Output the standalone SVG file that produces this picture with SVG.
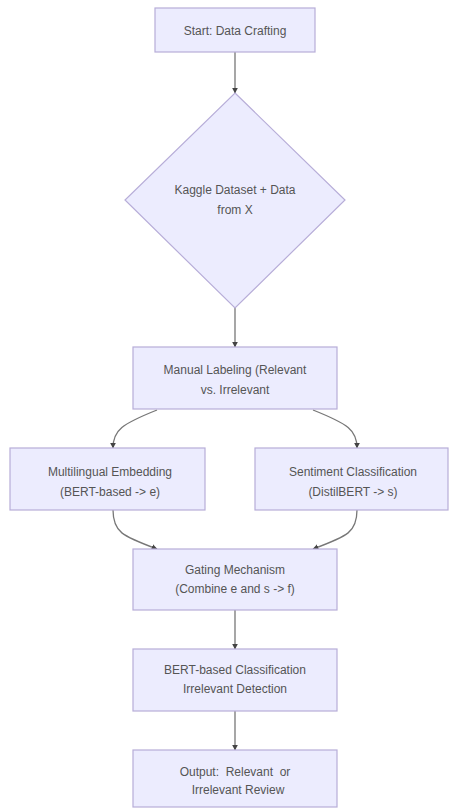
<svg xmlns="http://www.w3.org/2000/svg" width="454" height="810" viewBox="0 0 454 810">
<style>
.node rect, .node polygon { fill: #ececfe; stroke: #b7add8; stroke-width: 1.2; }
.node text { font-family: "Liberation Sans", Arial, sans-serif; font-size: 12px; fill: #555; text-anchor: middle; white-space: pre; }
.edges path { fill: none; stroke: #777; stroke-width: 1.3; marker-end: url(#arr); }
</style>
<defs>
<marker id="arr" viewBox="0 0 10 10" refX="9" refY="5" markerWidth="6" markerHeight="6" markerUnits="userSpaceOnUse" orient="auto">
<path d="M0,0 L10,5 L0,10 z" fill="#444"/>
</marker>
</defs>
<rect width="454" height="810" fill="#ffffff"/>
<g class="edges">
<path d="M235,52 L235,93"/>
<path d="M235,308 L235,347"/>
<path d="M157,410 C122,424 113,430 113,448"/>
<path d="M313,410 C348,424 357,430 357,448"/>
<path d="M113,510 C113,532 122,536 157,549"/>
<path d="M357,510 C357,532 348,536 313,549"/>
<path d="M235,610 L235,649"/>
<path d="M235,711 L235,750"/>
</g>
<g class="node" id="start">
<rect x="155" y="8" width="160" height="44"/>
<text x="235" y="35">Start: Data Crafting</text>
</g>
<g class="node" id="kaggle">
<polygon points="235,93 345,200 235,308 125,200"/>
<text x="235" y="194">Kaggle Dataset + Data</text>
<text x="235" y="214">from X</text>
</g>
<g class="node" id="manual">
<rect x="133" y="347" width="204" height="62"/>
<text x="235" y="374">Manual Labeling (Relevant</text>
<text x="235" y="394">vs. Irrelevant</text>
</g>
<g class="node" id="embed">
<rect x="10" y="448" width="195" height="62"/>
<text x="110" y="476">Multilingual Embedding</text>
<text x="110" y="496">(BERT-based -&gt; e)</text>
</g>
<g class="node" id="sentiment">
<rect x="255" y="448" width="193" height="62"/>
<text x="353" y="476">Sentiment Classification</text>
<text x="353" y="496">(DistilBERT -&gt; s)</text>
</g>
<g class="node" id="gating">
<rect x="133" y="549" width="204" height="61"/>
<text x="235" y="574">Gating Mechanism</text>
<text x="235" y="593">(Combine e and s -&gt; f)</text>
</g>
<g class="node" id="bert">
<rect x="133" y="649" width="204" height="62"/>
<text x="235" y="674">BERT-based Classification</text>
<text x="235" y="693">Irrelevant Detection</text>
</g>
<g class="node" id="output">
<rect x="133" y="750" width="204" height="57"/>
<text x="235" y="776">Output:  Relevant  or</text>
<text x="238" y="794">Irrelevant Review</text>
</g>
</svg>
